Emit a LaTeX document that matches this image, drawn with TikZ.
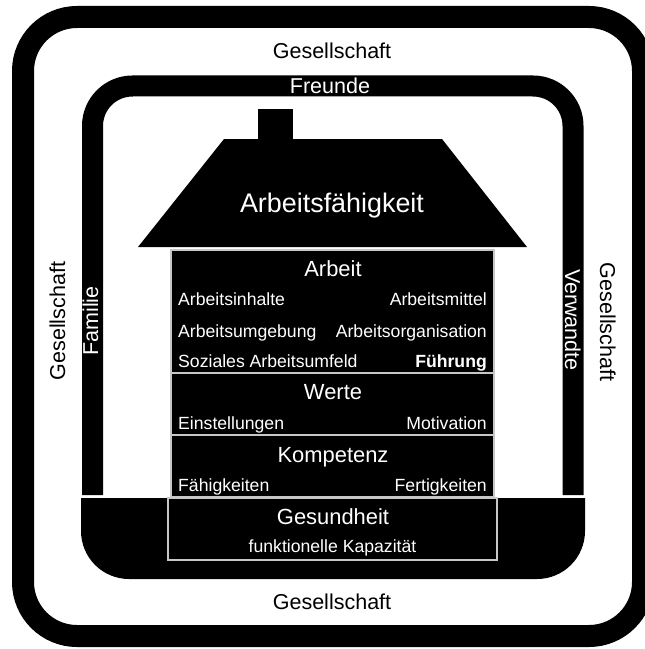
\documentclass[tikz,border=0pt]{standalone}
\usepackage{fontspec}
\setmainfont{Liberation Sans}
\begin{document}
\begin{tikzpicture}[x=1bp,y=-1bp,
  outer/.style={inner sep=0,anchor=base,font=\fontsize{21.6}{24}\selectfont},
  wouter/.style={outer,text=white},
  head/.style={inner sep=0,anchor=base,text=white,font=\fontsize{22}{24}\selectfont},
  item/.style={inner sep=0,text=white,font=\fontsize{17.7}{20}\selectfont},
  box/.style={fill=black,draw=white!78!black,line width=1.5bp}]
\useasboundingbox (0,0) rectangle (645,649);
\clip (0,0) rectangle (645,649);
% outer frame
\draw[line width=22bp,rounded corners=54bp] (23,17) rectangle (643,636);
% inner U frame
\draw[line width=21bp,rounded corners=40bp] (92.5,495) -- (92.5,86) -- (573,86) -- (573,495);
% bottom block
\begin{scope}
  \clip (0,498) rectangle (645,649);
  \fill[rounded corners=48bp] (81,440) rectangle (585,579);
\end{scope}
% house
\fill (258,109) rectangle (293,141);
\fill (224,139) -- (442,139) -- (527,247) -- (138,247) -- cycle;
\draw[box] (171,250) rectangle (494,373);
\draw[box] (171,373) rectangle (494,435);
\draw[box] (171,435) rectangle (494,497);
\draw[box] (168,498) rectangle (497,560);
% outer labels
\node[outer] (gtop) at (332,59) {Gesellschaft};
\node[outer] (gbot) at (332,609) {Gesellschaft};
\node[outer,rotate=90] (gleft) at (65,321) {Gesellschaft};
\node[outer,rotate=-90] (gright) at (600,322) {Gesellschaft};
\node[wouter] (freunde) at (330,94) {Freunde};
\node[wouter,rotate=90] (familie) at (98,321) {Familie};
\node[wouter,rotate=-90] (verwandte) at (565,320) {Verwandte};
% house texts
\node[inner sep=0,anchor=base,text=white,font=\fontsize{27}{30}\selectfont] (af) at (332,212) {Arbeitsfähigkeit};
\node[head] (arbeit) at (333,276) {Arbeit};
\node[item,anchor=base west] (a1) at (178,305) {Arbeitsinhalte};
\node[item,anchor=base east] (a2) at (487,305) {Arbeitsmittel};
\node[item,anchor=base west] (a3) at (178,337) {Arbeitsumgebung};
\node[item,anchor=base east] (a4) at (487,337) {Arbeitsorganisation};
\node[item,anchor=base west] (a5) at (178,367) {Soziales Arbeitsumfeld};
\node[item,anchor=base east] (a6) at (487,367) {\bfseries Führung};
\node[head] (werte) at (333,399) {Werte};
\node[item,anchor=base west] (w1) at (178,429) {Einstellungen};
\node[item,anchor=base east] (w2) at (487,429) {Motivation};
\node[head] (kompetenz) at (333,462) {Kompetenz};
\node[item,anchor=base west] (k1) at (178,491) {Fähigkeiten};
\node[item,anchor=base east] (k2) at (487,491) {Fertigkeiten};
\node[head] (gesundheit) at (333,524) {Gesundheit};
\node[item,anchor=base] (g1) at (332.5,552) {funktionelle Kapazität};
\end{tikzpicture}
\end{document}
